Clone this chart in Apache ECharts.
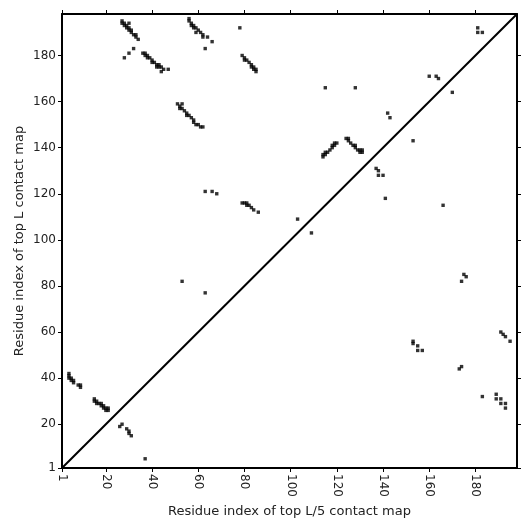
<!DOCTYPE html>
<html>
<head>
<meta charset="utf-8">
<script src="https://cdn.jsdelivr.net/npm/echarts@6/dist/echarts.min.js"></script>
<style>
  html, body { margin: 0; padding: 0; background: #fff; }
  #chart { width: 531px; height: 531px; }
</style>
</head>
<body>
<div id="chart"></div>
<script>
// sequence length (axis range 1..L)
const seqLen = 198;
const tickValues = [1, 20, 40, 60, 80, 100, 120, 140, 160, 180];

// top L contacts (upper-left triangle), [i, j]
const topLContacts = [
    [27, 195], [27, 194], [28, 194], [28, 193], [29, 193], [29, 192], [30, 192], [30, 191],
    [31, 191], [31, 190], [32, 189], [33, 189], [33, 188], [30, 194], [34, 187], [32, 183],
    [30, 181], [28, 179],
    [36, 181], [37, 181], [37, 180], [38, 180], [38, 179], [39, 179], [40, 178], [40, 177],
    [41, 177], [42, 176], [42, 175], [43, 176], [43, 175], [44, 175], [45, 174], [44, 173],
    [47, 174],
    [56, 196], [56, 195], [57, 194], [57, 193], [58, 193], [58, 192], [59, 192], [60, 191],
    [59, 190], [61, 190], [62, 189], [62, 188], [64, 188], [66, 186], [63, 183],
    [51, 159], [53, 159], [52, 158], [52, 157], [53, 157], [54, 156], [55, 155], [55, 154],
    [56, 154], [57, 153], [58, 152], [58, 151], [59, 150], [60, 150], [61, 149], [62, 149],
    [78, 192], [79, 180], [80, 179], [80, 178], [81, 178], [82, 177], [83, 176], [83, 175],
    [84, 175], [85, 174], [85, 173], [84, 174],
    [115, 166], [128, 166], [63, 121], [66, 121], [68, 120], [53, 82], [63, 77],
    [103, 109], [109, 103],
    [79, 116], [80, 116], [81, 116], [81, 115], [82, 115], [83, 114], [84, 113], [86, 112],
    [114, 136], [114, 137], [115, 137], [115, 138], [116, 138], [117, 139], [118, 140],
    [118, 141], [119, 141], [119, 142], [120, 142],
    [124, 144], [125, 144], [125, 143], [126, 142], [127, 141], [128, 141], [128, 140],
    [129, 139], [130, 139], [130, 138], [131, 138], [131, 139],
    [142, 155], [143, 153], [160, 171], [163, 171], [164, 170], [181, 192], [181, 190], [183, 190],
    [4, 42], [4, 41], [4, 40], [5, 40], [5, 39], [6, 39], [6, 38], [8, 37], [9, 37], [9, 36],
    [15, 31], [15, 30], [16, 30], [16, 29], [17, 29], [18, 29], [18, 28], [19, 28],
    [19, 27], [20, 27], [20, 26], [21, 27], [21, 26]
];

// top L/5 contacts (lower-right triangle), [i, j]
const topL5Contacts = [
    [26, 19], [27, 20], [29, 18], [30, 17], [30, 16], [31, 15], [37, 5],
    [137, 131], [138, 130], [138, 128], [140, 128], [141, 118], [153, 143], [166, 115],
    [170, 164], [175, 85], [176, 84], [174, 82],
    [153, 56], [153, 55], [155, 54], [155, 52], [157, 52], [173, 44], [174, 45],
    [191, 60], [192, 59], [193, 58], [195, 56],
    [183, 32], [189, 33], [189, 31], [191, 31], [191, 29], [193, 29], [193, 27]
];

const chart = echarts.init(document.getElementById('chart'));

const labelFont = {
    fontFamily: 'DejaVu Sans',
    fontSize: 12,
    color: '#222'
};

function mirrorAxis(pos) {
    return {
        type: 'value',
        position: pos,
        min: 1,
        max: seqLen,
        axisLine: { onZero: false, lineStyle: { color: '#000', width: 2 } },
        axisTick: { show: true, customValues: tickValues, length: 4, lineStyle: { color: '#000', width: 1 } },
        axisLabel: { show: false },
        splitLine: { show: false }
    };
}

const option = {
    backgroundColor: '#fff',
    animation: false,
    grid: { left: 62, right: 14, top: 14, bottom: 63 },
    xAxis: [
        {
            type: 'value',
            min: 1,
            max: seqLen,
            name: 'Residue index of top L/5 contact map',
            nameLocation: 'middle',
            nameGap: 36,
            nameTextStyle: { fontFamily: 'DejaVu Sans', fontSize: 13, color: '#222' },
            axisLine: { onZero: false, lineStyle: { color: '#000', width: 2 } },
            axisTick: { show: true, customValues: tickValues, length: 4, lineStyle: { color: '#000', width: 1 } },
            axisLabel: Object.assign({ customValues: tickValues, rotate: -90, margin: 6 }, labelFont),
            splitLine: { show: false }
        },
        mirrorAxis('top')
    ],
    yAxis: [
        {
            type: 'value',
            min: 1,
            max: seqLen,
            name: 'Residue index of top L contact map',
            nameLocation: 'middle',
            nameGap: 36,
            nameMoveOverlap: false,
            nameTextStyle: { fontFamily: 'DejaVu Sans', fontSize: 13, color: '#222' },
            axisLine: { onZero: false, lineStyle: { color: '#000', width: 2 } },
            axisTick: { show: true, customValues: tickValues, length: 4, lineStyle: { color: '#000', width: 1 } },
            axisLabel: Object.assign({ customValues: tickValues, margin: 6 }, labelFont),
            splitLine: { show: false }
        },
        mirrorAxis('right')
    ],
    series: [
        {
            name: 'diagonal',
            type: 'line',
            data: [[1, 1], [seqLen, seqLen]],
            symbol: 'none',
            lineStyle: { color: '#000', width: 2 },
            silent: true
        },
        {
            name: 'top L',
            type: 'scatter',
            data: topLContacts,
            symbol: 'rect',
            symbolSize: 3.4,
            itemStyle: { color: '#000' }
        },
        {
            name: 'top L/5',
            type: 'scatter',
            data: topL5Contacts,
            symbol: 'rect',
            symbolSize: 3.4,
            itemStyle: { color: '#000' }
        }
    ]
};

chart.setOption(option);
</script>
</body>
</html>
